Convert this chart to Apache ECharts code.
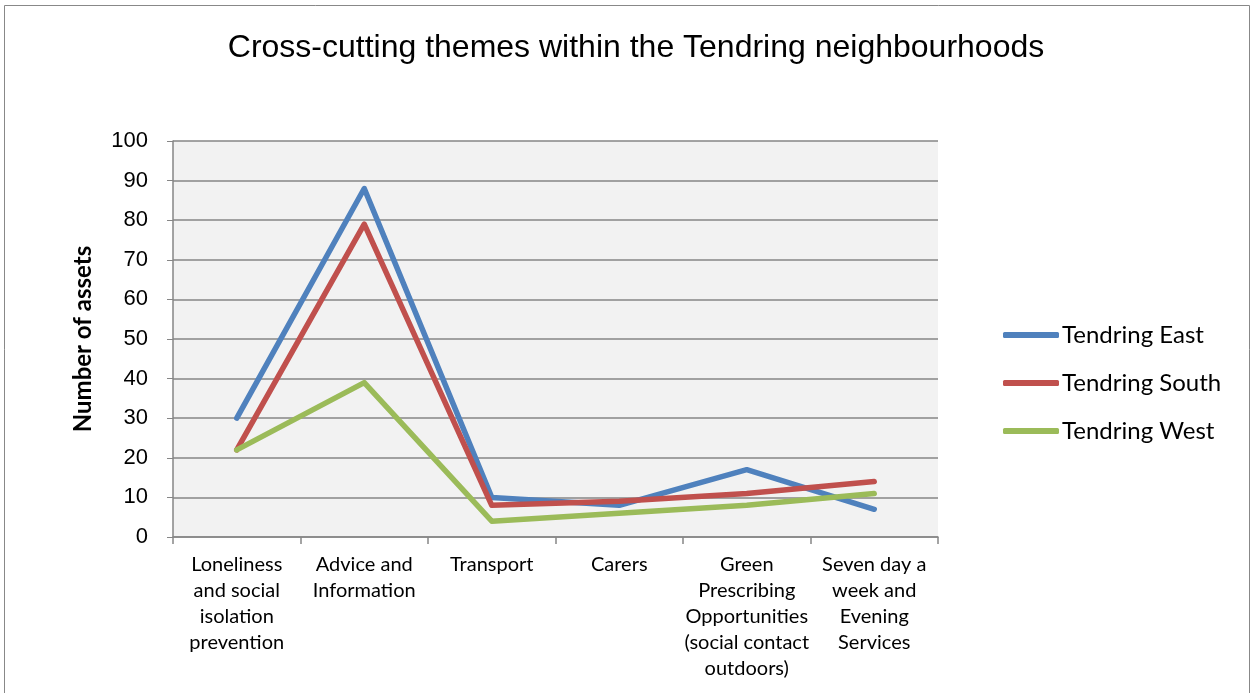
<!DOCTYPE html>
<html>
<head>
<meta charset="utf-8">
<script src="https://cdn.jsdelivr.net/npm/echarts@6/dist/echarts.min.js"></script>
<style>
html,body{margin:0;padding:0;background:#fff;}
#chart{width:1252px;height:693px;}
</style>
</head>
<body>
<div id="chart"></div>
<script>
const categories = [
  "Loneliness\nand social\nisolation\nprevention",
  "Advice and\nInformation",
  "Transport",
  "Carers",
  "Green\nPrescribing\nOpportunities\n(social contact\noutdoors)",
  "Seven day a\nweek and\nEvening\nServices"
];
const seriesNames = ["Tendring East", "Tendring South", "Tendring West"];
const tendringEast = [30, 88, 10, 8, 17, 7];
const tendringSouth = [22, 79, 8, 9, 11, 14];
const tendringWest = [22, 39, 4, 6, 8, 11];
const colors = ["#4F81BD", "#C0504D", "#9BBB59"];

const chart = echarts.init(document.getElementById('chart'));
const mk = (name, data, c) => ({
  name, type: 'line', data, symbol: 'none', smooth: false,
  lineStyle: {width: 5.5, color: c, cap: 'round', join: 'round'},
  itemStyle: {color: c}
});
chart.setOption({
  animation: false,
  graphic: [{
    type: 'rect', silent: true, z: -10,
    shape: {x: 4.5, y: 5.5, width: 1245, height: 700},
    style: {fill: 'none', stroke: '#888', lineWidth: 1}
  }],
  title: {
    text: 'Cross-cutting themes within the Tendring neighbourhoods',
    left: 631, top: 27, textAlign: 'center',
    textStyle: {fontFamily: 'Liberation Sans', fontSize: 32, fontWeight: 'normal', color: '#000'}
  },
  legend: {
    orient: 'vertical', left: 998, top: 318, itemGap: 24,
    itemWidth: 56, itemHeight: 6,
    icon: 'roundRect',
    textStyle: {fontFamily: 'Lato', fontSize: 24, color: '#000', padding: [0,0,0,-2]},
    data: seriesNames
  },
  grid: {left: 173, right: 314, top: 141, bottom: 156, containLabel: false,
    show: true, backgroundColor: '#F2F2F2', borderWidth: 0},
  xAxis: {
    type: 'category', data: categories, boundaryGap: true,
    axisLine: {lineStyle: {color: '#868686', width: 1.5}},
    axisTick: {show: true, length: 7, lineStyle: {color: '#868686', width: 1.5}},
    axisLabel: {interval: 0, margin: 15, fontFamily: 'Lato', fontSize: 20, lineHeight: 26, color: '#000', align: 'center', verticalAlign: 'top'}
  },
  yAxis: {
    type: 'value', min: 0, max: 100, interval: 10,
    name: 'Number of assets', nameLocation: 'middle', nameGap: 78,
    nameTextStyle: {fontFamily: 'Lato', fontWeight: 'bold', fontSize: 24, color: '#000'},
    axisLine: {show: true, lineStyle: {color: '#868686', width: 1.5}},
    axisTick: {show: true, length: 6, lineStyle: {color: '#868686'}},
    axisLabel: {fontFamily: 'Liberation Sans', fontSize: 22, color: '#000', margin: 25},
    splitLine: {lineStyle: {color: '#868686', width: 1.5}}
  },
  series: [
    mk(seriesNames[0], tendringEast, colors[0]),
    mk(seriesNames[1], tendringSouth, colors[1]),
    mk(seriesNames[2], tendringWest, colors[2])
  ]
});
</script>
</body>
</html>
